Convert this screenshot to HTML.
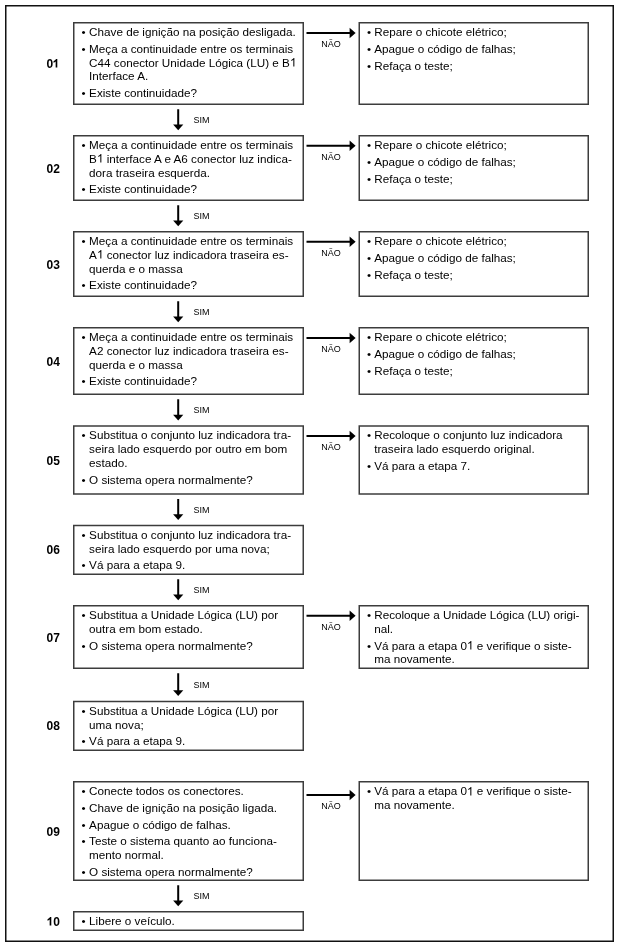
<!DOCTYPE html>
<html><head><meta charset="utf-8"><title>Fluxograma</title>
<style>
html,body{margin:0;padding:0;background:#fff;}
body{width:619px;height:950px;position:relative;overflow:hidden;will-change:transform;font-family:"Liberation Sans",sans-serif;color:#000;}
svg{position:absolute;left:0;top:0;}
.t,.b,.n,.s{position:absolute;white-space:nowrap;}
.t,.b{font-size:11.7px;line-height:14px;}
.n{font-size:12px;line-height:14px;font-weight:bold;}
.s{font-size:9px;line-height:14px;}
.g1{display:inline-block;width:0.5562em;height:0.7188em;vertical-align:baseline;fill:#000;overflow:visible;}
svg.g1{position:static;}
</style></head><body>
<svg width="619" height="950" viewBox="0 0 619 950">
<rect x="5.75" y="5.75" width="607.5" height="935.5" fill="none" stroke="#111" stroke-width="1.5"/>
<g fill="none" stroke="#3c3c3c" stroke-width="1.5">
<rect x="73.75" y="22.75" width="229.5" height="81.5"/>
<rect x="359.25" y="22.75" width="229" height="81.5"/>
<rect x="73.75" y="135.75" width="229.5" height="64.5"/>
<rect x="359.25" y="135.75" width="229" height="64.5"/>
<rect x="73.75" y="231.75" width="229.5" height="64.5"/>
<rect x="359.25" y="231.75" width="229" height="64.5"/>
<rect x="73.75" y="327.75" width="229.5" height="66.5"/>
<rect x="359.25" y="327.75" width="229" height="66.5"/>
<rect x="73.75" y="426" width="229.5" height="68"/>
<rect x="359.25" y="426" width="229" height="68"/>
<rect x="73.75" y="525.5" width="229.5" height="48.75"/>
<rect x="73.75" y="605.75" width="229.5" height="62.5"/>
<rect x="359.25" y="605.75" width="229" height="62.5"/>
<rect x="73.75" y="701.5" width="229.5" height="48.75"/>
<rect x="73.75" y="781.75" width="229.5" height="98.5"/>
<rect x="359.25" y="781.75" width="229" height="98.5"/>
<rect x="73.75" y="911.75" width="229.5" height="18.5"/>
</g>
<g stroke="#000" stroke-width="2" fill="none">
<line class="a" x1="306.5" y1="33" x2="351" y2="33"/>
<line class="a" x1="306.5" y1="145.75" x2="351" y2="145.75"/>
<line class="a" x1="178.2" y1="109.25" x2="178.2" y2="126.25"/>
<line class="a" x1="306.5" y1="241.75" x2="351" y2="241.75"/>
<line class="a" x1="178.2" y1="205.25" x2="178.2" y2="222.25"/>
<line class="a" x1="306.5" y1="338" x2="351" y2="338"/>
<line class="a" x1="178.2" y1="301.25" x2="178.2" y2="318.25"/>
<line class="a" x1="306.5" y1="436" x2="351" y2="436"/>
<line class="a" x1="178.2" y1="399.25" x2="178.2" y2="416.5"/>
<line class="a" x1="178.2" y1="499" x2="178.2" y2="516"/>
<line class="a" x1="306.5" y1="615.75" x2="351" y2="615.75"/>
<line class="a" x1="178.2" y1="579.25" x2="178.2" y2="596.25"/>
<line class="a" x1="178.2" y1="673.25" x2="178.2" y2="692"/>
<line class="a" x1="306.5" y1="795" x2="351" y2="795"/>
<line class="a" x1="178.2" y1="885.25" x2="178.2" y2="902.25"/>
</g>
<g fill="#000" stroke="none">
<path class="h" d="M349.6 27.8 L355.6 33 L349.6 38.2 Z"/>
<path class="h" d="M349.6 140.55 L355.6 145.75 L349.6 150.95 Z"/>
<path class="h" d="M173.1 124.45 L183.3 124.45 L178.2 130.25 Z"/>
<path class="h" d="M349.6 236.55 L355.6 241.75 L349.6 246.95 Z"/>
<path class="h" d="M173.1 220.45 L183.3 220.45 L178.2 226.25 Z"/>
<path class="h" d="M349.6 332.8 L355.6 338 L349.6 343.2 Z"/>
<path class="h" d="M173.1 316.45 L183.3 316.45 L178.2 322.25 Z"/>
<path class="h" d="M349.6 430.8 L355.6 436 L349.6 441.2 Z"/>
<path class="h" d="M173.1 414.7 L183.3 414.7 L178.2 420.5 Z"/>
<path class="h" d="M173.1 514.2 L183.3 514.2 L178.2 520 Z"/>
<path class="h" d="M349.6 610.55 L355.6 615.75 L349.6 620.95 Z"/>
<path class="h" d="M173.1 594.45 L183.3 594.45 L178.2 600.25 Z"/>
<path class="h" d="M173.1 690.2 L183.3 690.2 L178.2 696 Z"/>
<path class="h" d="M349.6 789.8 L355.6 795 L349.6 800.2 Z"/>
<path class="h" d="M173.1 900.45 L183.3 900.45 L178.2 906.25 Z"/>
</g>
</svg>
<div class="b" style="left:81.6px;top:25px">•</div>
<div class="t" style="left:89.1px;top:25px">Chave de ignição na posição desligada.</div>
<div class="b" style="left:81.6px;top:41.75px">•</div>
<div class="t" style="left:89.1px;top:41.75px">Meça a continuidade entre os terminais</div>
<div class="t" style="left:89.1px;top:55.55px">C44 conector Unidade Lógica (LU) e B<svg class="g1" viewBox="0 0 1139 1472"><path transform="matrix(1 0 0 -1 0 1472)" d="M763 0H583V1147Q518 1085 412.5 1023Q307 961 223 930V1104Q374 1175 487 1276.5Q600 1378 647 1472H763V0Z"/></svg></div>
<div class="t" style="left:89.1px;top:69.35px">Interface A.</div>
<div class="b" style="left:81.6px;top:86.1px">•</div>
<div class="t" style="left:89.1px;top:86.1px">Existe continuidade?</div>
<div class="n" style="left:46.6px;top:57px">0<svg class="g1" viewBox="0 0 1139 1472"><path transform="matrix(1 0 0 -1 -120 1472)" d="M854 0H573V1059Q419 915 210 846V1101Q320 1137 449 1237.5Q578 1338 626 1472H854V0Z"/></svg></div>
<div class="b" style="left:367px;top:25px">•</div>
<div class="t" style="left:374.2px;top:25px">Repare o chicote elétrico;</div>
<div class="b" style="left:367px;top:41.75px">•</div>
<div class="t" style="left:374.2px;top:41.75px">Apague o código de falhas;</div>
<div class="b" style="left:367px;top:58.5px">•</div>
<div class="t" style="left:374.2px;top:58.5px">Refaça o teste;</div>
<div class="s" style="left:321.3px;top:37.3px">NÃO</div>
<div class="b" style="left:81.6px;top:138px">•</div>
<div class="t" style="left:89.1px;top:138px">Meça a continuidade entre os terminais</div>
<div class="t" style="left:89.1px;top:151.8px">B<svg class="g1" viewBox="0 0 1139 1472"><path transform="matrix(1 0 0 -1 0 1472)" d="M763 0H583V1147Q518 1085 412.5 1023Q307 961 223 930V1104Q374 1175 487 1276.5Q600 1378 647 1472H763V0Z"/></svg> interface A e A6 conector luz indica-</div>
<div class="t" style="left:89.1px;top:165.6px">dora traseira esquerda.</div>
<div class="b" style="left:81.6px;top:182.35px">•</div>
<div class="t" style="left:89.1px;top:182.35px">Existe continuidade?</div>
<div class="n" style="left:46.6px;top:161.5px">02</div>
<div class="b" style="left:367px;top:138px">•</div>
<div class="t" style="left:374.2px;top:138px">Repare o chicote elétrico;</div>
<div class="b" style="left:367px;top:154.75px">•</div>
<div class="t" style="left:374.2px;top:154.75px">Apague o código de falhas;</div>
<div class="b" style="left:367px;top:171.5px">•</div>
<div class="t" style="left:374.2px;top:171.5px">Refaça o teste;</div>
<div class="s" style="left:321.3px;top:150.05px">NÃO</div>
<div class="s" style="left:193.4px;top:112.8px">SIM</div>
<div class="b" style="left:81.6px;top:234px">•</div>
<div class="t" style="left:89.1px;top:234px">Meça a continuidade entre os terminais</div>
<div class="t" style="left:89.1px;top:247.8px">A<svg class="g1" viewBox="0 0 1139 1472"><path transform="matrix(1 0 0 -1 0 1472)" d="M763 0H583V1147Q518 1085 412.5 1023Q307 961 223 930V1104Q374 1175 487 1276.5Q600 1378 647 1472H763V0Z"/></svg> conector luz indicadora traseira es-</div>
<div class="t" style="left:89.1px;top:261.6px">querda e o massa</div>
<div class="b" style="left:81.6px;top:278.35px">•</div>
<div class="t" style="left:89.1px;top:278.35px">Existe continuidade?</div>
<div class="n" style="left:46.6px;top:257.5px">03</div>
<div class="b" style="left:367px;top:234px">•</div>
<div class="t" style="left:374.2px;top:234px">Repare o chicote elétrico;</div>
<div class="b" style="left:367px;top:250.75px">•</div>
<div class="t" style="left:374.2px;top:250.75px">Apague o código de falhas;</div>
<div class="b" style="left:367px;top:267.5px">•</div>
<div class="t" style="left:374.2px;top:267.5px">Refaça o teste;</div>
<div class="s" style="left:321.3px;top:246.05px">NÃO</div>
<div class="s" style="left:193.4px;top:208.8px">SIM</div>
<div class="b" style="left:81.6px;top:330px">•</div>
<div class="t" style="left:89.1px;top:330px">Meça a continuidade entre os terminais</div>
<div class="t" style="left:89.1px;top:343.8px">A2 conector luz indicadora traseira es-</div>
<div class="t" style="left:89.1px;top:357.6px">querda e o massa</div>
<div class="b" style="left:81.6px;top:374.35px">•</div>
<div class="t" style="left:89.1px;top:374.35px">Existe continuidade?</div>
<div class="n" style="left:46.6px;top:354.5px">04</div>
<div class="b" style="left:367px;top:330px">•</div>
<div class="t" style="left:374.2px;top:330px">Repare o chicote elétrico;</div>
<div class="b" style="left:367px;top:346.75px">•</div>
<div class="t" style="left:374.2px;top:346.75px">Apague o código de falhas;</div>
<div class="b" style="left:367px;top:363.5px">•</div>
<div class="t" style="left:374.2px;top:363.5px">Refaça o teste;</div>
<div class="s" style="left:321.3px;top:342.3px">NÃO</div>
<div class="s" style="left:193.4px;top:304.8px">SIM</div>
<div class="b" style="left:81.6px;top:428.25px">•</div>
<div class="t" style="left:89.1px;top:428.25px">Substitua o conjunto luz indicadora tra-</div>
<div class="t" style="left:89.1px;top:442.05px">seira lado esquerdo por outro em bom</div>
<div class="t" style="left:89.1px;top:455.85px">estado.</div>
<div class="b" style="left:81.6px;top:472.6px">•</div>
<div class="t" style="left:89.1px;top:472.6px">O sistema opera normalmente?</div>
<div class="n" style="left:46.6px;top:453.5px">05</div>
<div class="b" style="left:367px;top:428.25px">•</div>
<div class="t" style="left:374.2px;top:428.25px">Recoloque o conjunto luz indicadora</div>
<div class="t" style="left:374.2px;top:442.05px">traseira lado esquerdo original.</div>
<div class="b" style="left:367px;top:458.8px">•</div>
<div class="t" style="left:374.2px;top:458.8px">Vá para a etapa 7.</div>
<div class="s" style="left:321.3px;top:440.3px">NÃO</div>
<div class="s" style="left:193.4px;top:402.93px">SIM</div>
<div class="b" style="left:81.6px;top:527.75px">•</div>
<div class="t" style="left:89.1px;top:527.75px">Substitua o conjunto luz indicadora tra-</div>
<div class="t" style="left:89.1px;top:541.55px">seira lado esquerdo por uma nova;</div>
<div class="b" style="left:81.6px;top:558.3px">•</div>
<div class="t" style="left:89.1px;top:558.3px">Vá para a etapa 9.</div>
<div class="n" style="left:46.6px;top:543.38px">06</div>
<div class="s" style="left:193.4px;top:502.55px">SIM</div>
<div class="b" style="left:81.6px;top:608px">•</div>
<div class="t" style="left:89.1px;top:608px">Substitua a Unidade Lógica (LU) por</div>
<div class="t" style="left:89.1px;top:621.8px">outra em bom estado.</div>
<div class="b" style="left:81.6px;top:638.55px">•</div>
<div class="t" style="left:89.1px;top:638.55px">O sistema opera normalmente?</div>
<div class="n" style="left:46.6px;top:630.5px">07</div>
<div class="b" style="left:367px;top:608px">•</div>
<div class="t" style="left:374.2px;top:608px">Recoloque a Unidade Lógica (LU) origi-</div>
<div class="t" style="left:374.2px;top:621.8px">nal.</div>
<div class="b" style="left:367px;top:638.55px">•</div>
<div class="t" style="left:374.2px;top:638.55px">Vá para a etapa 0<svg class="g1" viewBox="0 0 1139 1472"><path transform="matrix(1 0 0 -1 0 1472)" d="M763 0H583V1147Q518 1085 412.5 1023Q307 961 223 930V1104Q374 1175 487 1276.5Q600 1378 647 1472H763V0Z"/></svg> e verifique o siste-</div>
<div class="t" style="left:374.2px;top:652.35px">ma novamente.</div>
<div class="s" style="left:321.3px;top:620.05px">NÃO</div>
<div class="s" style="left:193.4px;top:582.8px">SIM</div>
<div class="b" style="left:81.6px;top:703.75px">•</div>
<div class="t" style="left:89.1px;top:703.75px">Substitua a Unidade Lógica (LU) por</div>
<div class="t" style="left:89.1px;top:717.55px">uma nova;</div>
<div class="b" style="left:81.6px;top:734.3px">•</div>
<div class="t" style="left:89.1px;top:734.3px">Vá para a etapa 9.</div>
<div class="n" style="left:46.6px;top:719.38px">08</div>
<div class="s" style="left:193.4px;top:677.67px">SIM</div>
<div class="b" style="left:81.6px;top:784px">•</div>
<div class="t" style="left:89.1px;top:784px">Conecte todos os conectores.</div>
<div class="b" style="left:81.6px;top:800.75px">•</div>
<div class="t" style="left:89.1px;top:800.75px">Chave de ignição na posição ligada.</div>
<div class="b" style="left:81.6px;top:817.5px">•</div>
<div class="t" style="left:89.1px;top:817.5px">Apague o código de falhas.</div>
<div class="b" style="left:81.6px;top:834.25px">•</div>
<div class="t" style="left:89.1px;top:834.25px">Teste o sistema quanto ao funciona-</div>
<div class="t" style="left:89.1px;top:848.05px">mento normal.</div>
<div class="b" style="left:81.6px;top:864.8px">•</div>
<div class="t" style="left:89.1px;top:864.8px">O sistema opera normalmente?</div>
<div class="n" style="left:46.6px;top:824.5px">09</div>
<div class="b" style="left:367px;top:784px">•</div>
<div class="t" style="left:374.2px;top:784px">Vá para a etapa 0<svg class="g1" viewBox="0 0 1139 1472"><path transform="matrix(1 0 0 -1 0 1472)" d="M763 0H583V1147Q518 1085 412.5 1023Q307 961 223 930V1104Q374 1175 487 1276.5Q600 1378 647 1472H763V0Z"/></svg> e verifique o siste-</div>
<div class="t" style="left:374.2px;top:797.8px">ma novamente.</div>
<div class="s" style="left:321.3px;top:799.3px">NÃO</div>
<div class="b" style="left:81.6px;top:914px">•</div>
<div class="t" style="left:89.1px;top:914px">Libere o veículo.</div>
<div class="n" style="left:46.6px;top:914.5px"><svg class="g1" viewBox="0 0 1139 1472"><path transform="matrix(1 0 0 -1 -120 1472)" d="M854 0H573V1059Q419 915 210 846V1101Q320 1137 449 1237.5Q578 1338 626 1472H854V0Z"/></svg>0</div>
<div class="s" style="left:193.4px;top:888.8px">SIM</div>
</body></html>
